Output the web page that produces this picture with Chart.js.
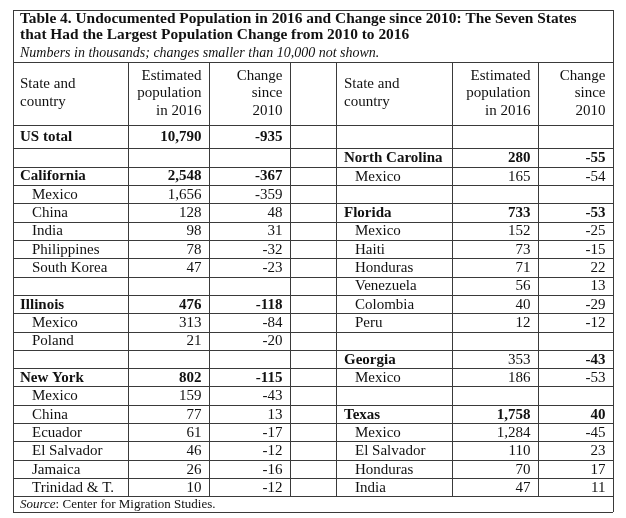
<!DOCTYPE html>
<html lang="en">
<head>
  <meta charset="UTF-8">
  <title>Undocumented Population 2016</title>
  <script src="https://cdn.jsdelivr.net/npm/chart.js"></script>
  <style>
    html, body { margin: 0; padding: 0; background: #fff; }
    #wrap { width: 626px; height: 518px; }
  </style>
</head>
<body>
<div id="wrap"><canvas id="table" width="626" height="518"></canvas></div>

<script>
// table text
const title1 = "Table 4. Undocumented Population in 2016 and Change since 2010: The Seven States";
const title2 = "that Had the Largest Population Change from 2010 to 2016";
const subtitle = "Numbers in thousands; changes smaller than 10,000 not shown.";
const headName = ["State and", "country"];
const headPop = ["Estimated", "population", "in 2016"];
const headChange = ["Change", "since", "2010"];
const sourceLabel = "Source";
const sourceText = " Center for Migration Studies.";

// rows that are states (bold), everything else is a country
const states = ["US total", "California", "Illinois", "New York", "North Carolina", "Florida", "Georgia", "Texas"];
// population figure printed in regular weight despite being a state row
const plainPopStates = ["Georgia"];

// left half
const leftNames = ["US total", "", "California", "Mexico", "China", "India", "Philippines", "South Korea", "",
  "Illinois", "Mexico", "Poland", "", "New York", "Mexico", "China", "Ecuador", "El Salvador", "Jamaica", "Trinidad & T."];
const leftPop = [10790, null, 2548, 1656, 128, 98, 78, 47, null, 476, 313, 21, null, 802, 159, 77, 61, 46, 26, 10];
const leftChange = [-935, null, -367, -359, 48, 31, -32, -23, null, -118, -84, -20, null, -115, -43, 13, -17, -12, -16, -12];

// right half
const rightNames = ["", "North Carolina", "Mexico", "", "Florida", "Mexico", "Haiti", "Honduras", "Venezuela", "Colombia", "Peru", "",
  "Georgia", "Mexico", "", "Texas", "Mexico", "El Salvador", "Honduras", "India"];
const rightPop = [null, 280, 165, null, 733, 152, 73, 71, 56, 40, 12, null, 353, 186, null, 1758, 1284, 110, 70, 47];
const rightChange = [null, -55, -54, null, -53, -25, -15, 22, 13, -29, -12, null, -43, -53, null, 40, -45, 23, 17, 11];

// layout (in scale units = px)
const frame = { left: 13, right: 613, top: 10, bottom: 512 };
const headTop = 62, headBottom = 125, firstBottom = 148.3, rowH = 18.32;
const halves = [
  { cols: [13, 128, 209, 290], nameX: 20, countryX: 32, names: leftNames, pop: leftPop, change: leftChange },
  { cols: [336, 452, 538, 613], nameX: 344, countryX: 355, names: rightNames, pop: rightPop, change: rightChange }
];
const SERIF = '"Liberation Serif", "Times New Roman", serif';
const INK = '#111';
const RULE = '#3a3a3a';

function rowTop(i) { return i === 0 ? headBottom : firstBottom + (i - 1) * rowH; }
function rowBottom(i) { return firstBottom + i * rowH; }
function fmt(v) { return v === null ? '' : v.toLocaleString('en-US'); }

const tablePlugin = {
  id: 'tablePlugin',
  afterDraw(chart) {
    const ctx = chart.ctx;
    const X = v => chart.scales.x.getPixelForValue(v);
    const Y = v => chart.scales.y.getPixelForValue(v);
    const crisp = p => Math.round(p) + 0.5;
    const nRows = leftNames.length;
    const lastBottom = rowBottom(nRows - 1);

    ctx.save();
    ctx.fillStyle = '#fff';
    ctx.fillRect(0, 0, chart.width, chart.height);

    // rules
    ctx.strokeStyle = RULE;
    ctx.lineWidth = 1;
    ctx.beginPath();
    const hline = (y, x0, x1) => { ctx.moveTo(X(x0), crisp(Y(y))); ctx.lineTo(X(x1), crisp(Y(y))); };
    const vline = (x, y0, y1) => { ctx.moveTo(crisp(X(x)), Y(y0)); ctx.lineTo(crisp(X(x)), Y(y1)); };
    hline(frame.top, frame.left, frame.right);
    hline(frame.bottom, frame.left, frame.right);
    vline(frame.left, frame.top, frame.bottom);
    vline(frame.right, frame.top, frame.bottom);
    hline(headTop, frame.left, frame.right);
    hline(headBottom, frame.left, frame.right);
    for (let i = 0; i < nRows; i++) hline(rowBottom(i), frame.left, frame.right);
    halves.forEach(h => h.cols.forEach(c => vline(c, headTop, lastBottom)));
    ctx.stroke();

    ctx.fillStyle = INK;
    ctx.textBaseline = 'middle';

    // title block
    ctx.textAlign = 'left';
    ctx.font = 'bold 15.4px ' + SERIF;
    ctx.fillText(title1, X(20), Y(19));
    ctx.fillText(title2, X(20), Y(35.5));
    ctx.font = 'italic 14px ' + SERIF;
    ctx.fillText(subtitle, X(20), Y(53));

    // header cells
    ctx.font = '15px ' + SERIF;
    halves.forEach(h => {
      ctx.textAlign = 'left';
      headName.forEach((t, k) => ctx.fillText(t, X(h.nameX), Y(84 + k * 18.5)));
      ctx.textAlign = 'right';
      headPop.forEach((t, k) => ctx.fillText(t, X(h.cols[2] - 7.5), Y(76 + k * 17.5)));
      headChange.forEach((t, k) => ctx.fillText(t, X(h.cols[3] - 7.5), Y(76 + k * 17.5)));
    });

    // body cells
    halves.forEach(h => {
      for (let i = 0; i < nRows; i++) {
        const name = h.names[i];
        if (!name) continue;
        const cy = Y((rowTop(i) + rowBottom(i)) / 2 + 0.8);
        const isState = states.includes(name);
        ctx.textAlign = 'left';
        ctx.font = (isState ? 'bold ' : '') + '15px ' + SERIF;
        ctx.fillText(name, X(isState ? h.nameX : h.countryX), cy);
        ctx.textAlign = 'right';
        ctx.font = (isState && !plainPopStates.includes(name) ? 'bold ' : '') + '15px ' + SERIF;
        ctx.fillText(fmt(h.pop[i]), X(h.cols[2] - 7.5), cy);
        ctx.font = (isState ? 'bold ' : '') + '15px ' + SERIF;
        ctx.fillText(fmt(h.change[i]), X(h.cols[3] - 7.5), cy);
      }
    });

    // source line
    ctx.textAlign = 'left';
    const sy = Y((lastBottom + frame.bottom) / 2 + 0.5);
    ctx.font = 'italic 13px ' + SERIF;
    ctx.fillText(sourceLabel, X(20), sy);
    let sx = X(20) + ctx.measureText(sourceLabel).width;
    ctx.font = '13px ' + SERIF;
    ctx.fillText(':', sx, sy);
    sx += ctx.measureText(':').width;
    ctx.fillText(sourceText, sx, sy);
    ctx.restore();
  }
};

new Chart(document.getElementById('table').getContext('2d'), {
  type: 'scatter',
  data: { datasets: [] },
  options: {
    responsive: false,
    animation: false,
    layout: { padding: 0 },
    plugins: { legend: { display: false }, tooltip: { enabled: false } },
    scales: {
      x: { type: 'linear', min: 0, max: 626, display: false },
      y: { type: 'linear', min: 0, max: 518, reverse: true, display: false }
    }
  },
  plugins: [tablePlugin]
});
</script>
</body>
</html>
